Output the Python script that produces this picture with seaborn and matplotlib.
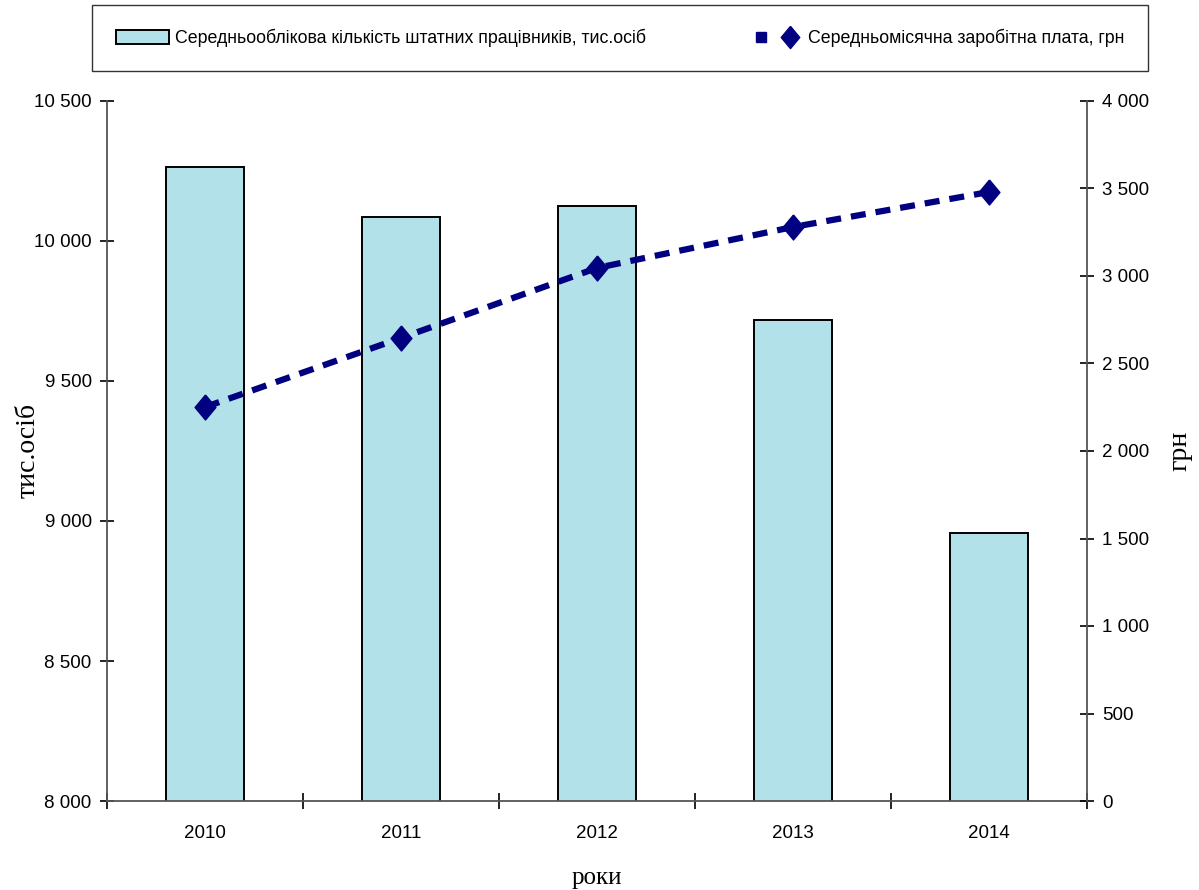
import matplotlib
matplotlib.use("Agg")
import matplotlib.pyplot as plt
from matplotlib.ticker import FuncFormatter, FixedLocator
from matplotlib.lines import Line2D
from matplotlib.legend_handler import HandlerTuple
import seaborn as sns
import pandas as pd

# Data
years = ["2010", "2011", "2012", "2013", "2014"]
staff_thousands = [10264, 10086, 10125, 9718, 8957]
avg_wage_uah = [2251, 2646, 3046, 3280, 3480]

bar_label = "Середньооблікова кількість штатних працівників, тис.осіб"
line_label = "Середньомісячна заробітна плата, грн"

sns.set_theme(style="white")
sans = ["Liberation Sans", "DejaVu Sans"]
serif = ["Liberation Serif", "DejaVu Serif"]
plt.rcParams["font.family"] = sans
plt.rcParams["text.color"] = "black"
plt.rcParams["xtick.color"] = "black"
plt.rcParams["ytick.color"] = "black"
plt.rcParams["axes.labelcolor"] = "black"

df = pd.DataFrame({"year": years, "staff": staff_thousands, "wage": avg_wage_uah})

fig = plt.figure(figsize=(11.99, 8.90), dpi=100)
ax = fig.add_axes([107 / 1199, 1 - 801 / 890, 980 / 1199, 700 / 890])

bar_color = "#b2e1e9"
line_color = "#000080"
tall_diamond = [(0, 1.2), (1, 0), (0, -1.2), (-1, 0), (0, 1.2)]

sns.barplot(data=df, x="year", y="staff", ax=ax, color=bar_color, width=0.40,
            edgecolor="black", linewidth=1.4, saturation=1)

ax.set_ylim(8000, 10500)
ax.set_xlim(-0.5, len(years) - 0.5)

ax2 = ax.twinx()
ax2.plot(range(len(years)), df["wage"], color=line_color, lw=4.5,
         linestyle=(0, (2.4, 1.6)), marker=tall_diamond, markersize=18)
ax2.set_ylim(0, 4000)

thousands = FuncFormatter(lambda v, p: f"{int(v):,}".replace(",", " "))
ax.yaxis.set_major_locator(FixedLocator(range(8000, 10501, 500)))
ax.yaxis.set_major_formatter(thousands)
ax2.yaxis.set_major_locator(FixedLocator(range(0, 4001, 500)))
ax2.yaxis.set_major_formatter(thousands)

spine_color = "#555555"
for a in (ax, ax2):
    for s in a.spines.values():
        s.set_visible(False)
ax.spines["left"].set_visible(True)
ax.spines["bottom"].set_visible(True)
ax2.spines["right"].set_visible(True)
for s in (ax.spines["left"], ax.spines["bottom"], ax2.spines["right"]):
    s.set_color(spine_color)
    s.set_linewidth(1.3)

tick_font = 13.5
ax.tick_params(axis="y", direction="inout", length=10, width=1.2, color="black",
               labelsize=tick_font, pad=6, left=True)
ax2.tick_params(axis="y", direction="inout", length=10, width=1.2, color="black",
                labelsize=tick_font, pad=6, right=True)

# Category labels centred, tick marks on the category boundaries
ax.set_xticks(range(len(years)))
ax.set_xticklabels(years)
ax.tick_params(axis="x", which="major", length=0, labelsize=tick_font, pad=17)
ax.set_xticks([i - 0.5 for i in range(len(years) + 1)], minor=True)
ax.tick_params(axis="x", which="minor", direction="inout", length=12, width=1.2,
               color="black", bottom=True)

ax.set_xlabel("роки", family=serif, fontsize=18, labelpad=18)
ax.set_ylabel("тис.осіб", family=serif, fontsize=20)
ax2.set_ylabel("грн", family=serif, fontsize=20, rotation=90)
ax.yaxis.set_label_coords(-0.068, 0.5)
ax2.yaxis.set_label_coords(1.082, 0.5)

# Legend entries: filled swatch for the bars, square + diamond for the line
bar_handle = plt.Rectangle((0, 0), 1, 1, facecolor=bar_color, edgecolor="black",
                           linewidth=1.4)
sq = Line2D([], [], linestyle="none", marker="s", markersize=7, color=line_color)
dm = Line2D([], [], linestyle="none", marker=tall_diamond, markersize=16,
            color=line_color)
leg = fig.legend([bar_handle, (sq, dm)], [bar_label, line_label], loc="upper left",
                 bbox_to_anchor=(92 / 1199, 1 - 5 / 890, 1056 / 1199, 0),
                 mode="expand", ncol=2, frameon=True, fancybox=False,
                 edgecolor="black", fontsize=12.8, handlelength=3.0,
                 handleheight=0.8, handletextpad=0.3, borderaxespad=0,
                 columnspacing=4, borderpad=1.35,
                 handler_map={tuple: HandlerTuple(ndivide=None, pad=0.3)})
leg.get_frame().set_linewidth(1.0)

fig.savefig("out.png", dpi=100, facecolor="white")
